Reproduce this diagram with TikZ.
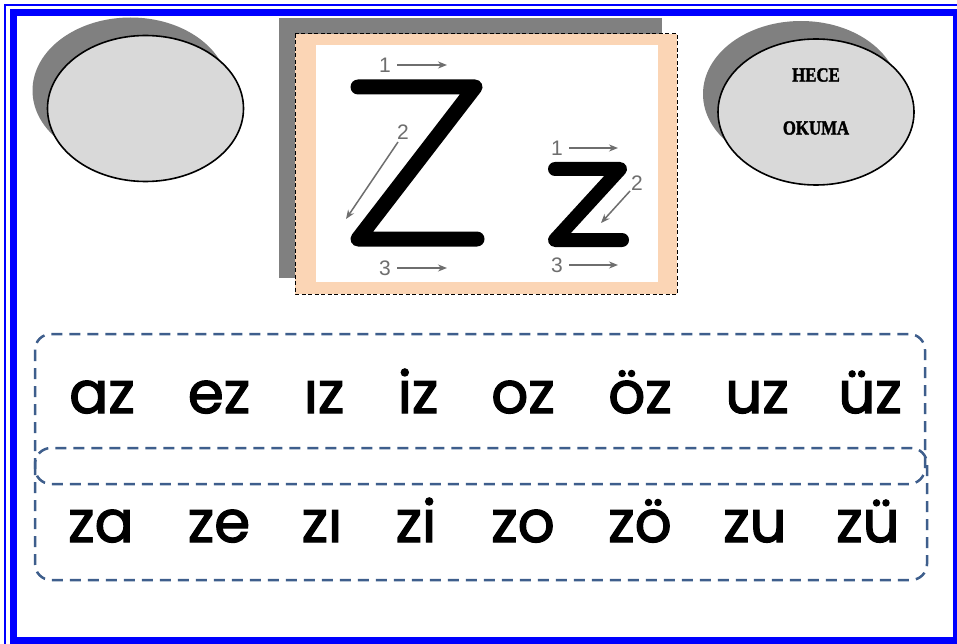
\documentclass[tikz,border=0pt]{standalone}
\usepackage{fontspec}
\setsansfont{Liberation Sans}
\newfontfamily\sylfont{Poppins}[FakeBold=2.2]
\newfontfamily\hecefont{Liberation Serif}[FakeBold=2]
\usetikzlibrary{shapes.geometric,shadows,arrows.meta}

\definecolor{frameblue}{RGB}{0,0,255}
\definecolor{shadowgray}{RGB}{128,128,128}
\definecolor{ovalgray}{RGB}{217,217,217}
\definecolor{peach}{RGB}{251,213,181}
\definecolor{hintgray}{RGB}{110,110,110}
\definecolor{dashblue}{RGB}{62,94,140}

\tikzset{
  oval/.style={draw, line width=1.6pt, ellipse, fill=ovalgray, minimum width=196pt, minimum height=146pt,
    drop shadow={shadow xshift=-15pt, shadow yshift=18pt, fill=shadowgray, opacity=1}},
  stroke/.style={line width=15pt, line cap=round, line join=round},
  hint/.style={hintgray, line width=1.5pt, -{Stealth[length=9pt, width=7pt]}},
  hintnum/.style={hintgray, font=\sffamily\fontsize{21}{21}\selectfont, inner sep=0pt},
  syl/.style={font=\sylfont\fontsize{58}{58}\selectfont, inner sep=0pt, anchor=base},
  hecetext/.style={font=\hecefont\bfseries\fontsize{20}{20}\selectfont, xscale=0.84},
  band/.style={dashblue, line width=2.5pt, dash pattern=on 11pt off 7pt, rounded corners=16pt}
}

\begin{document}
\begin{tikzpicture}[x=1pt, y=-1pt]
    \useasboundingbox (0,0) rectangle (957,644);
    \fill[white] (0,0) rectangle (957,644);

    % page frame
    \draw[frameblue, line width=1.2pt] (5,5) rectangle (962,649);
    \draw[frameblue, line width=7pt] (13.5,12.5) rectangle (956.5,640.5);

    % ovals
    \node[oval] (leftoval) at (145.5,108.5) {};
    \node[oval] (rightoval) at (816,112) {};
    \node[hecetext] (hece) at (816,75) {HECE};
    \node[hecetext] (okuma) at (816,128) {OKUMA};

    % letter card
    \fill[shadowgray] (279,18) rectangle (662,278);
    \fill[peach] (295,34) rectangle (677,294);
    \draw[line width=1pt, dash pattern=on 4pt off 2.5pt] (295,34) rectangle (677,294);
    \fill[white] (316,45) rectangle (658,282);

    % capital Z
    \coordinate (bigA) at (358,87);
    \coordinate (bigB) at (475,87);
    \coordinate (bigC) at (358,239);
    \coordinate (bigD) at (477,239);
    \draw[stroke] (bigA) -- (bigB) -- (bigC) -- (bigD);
    \node[hintnum] (big1) at (385,65) {1};
    \coordinate (big1s) at (397,65);
    \coordinate (big1e) at (447,65);
    \draw[hint] (big1s) -- (big1e);
    \node[hintnum] (big2) at (403,132) {2};
    \coordinate (big2s) at (398,142);
    \coordinate (big2e) at (346,219);
    \draw[hint] (big2s) -- (big2e);
    \node[hintnum] (big3) at (385,268) {3};
    \coordinate (big3s) at (397,268);
    \coordinate (big3e) at (447,268);
    \draw[hint] (big3s) -- (big3e);

    % small z
    \coordinate (smA) at (555,169);
    \coordinate (smB) at (620,169);
    \coordinate (smC) at (555,240);
    \coordinate (smD) at (622,240);
    \draw[stroke, line width=14pt] (smA) -- (smB) -- (smC) -- (smD);
    \node[hintnum] (sm1) at (557,148) {1};
    \coordinate (sm1s) at (569,148);
    \coordinate (sm1e) at (618,148);
    \draw[hint] (sm1s) -- (sm1e);
    \node[hintnum] (sm2) at (637,183) {2};
    \coordinate (sm2s) at (630,191);
    \coordinate (sm2e) at (601,223);
    \draw[hint] (sm2s) -- (sm2e);
    \node[hintnum] (sm3) at (557,265) {3};
    \coordinate (sm3s) at (569,265);
    \coordinate (sm3e) at (618,265);
    \draw[hint] (sm3s) -- (sm3e);

    % syllable bands
    \draw[band] (35,334) rectangle (925,484);
    \draw[band] (35,448) rectangle (927,580);

    \node[syl] (az) at (102,413) {az};
    \node[syl] (ez) at (219,413) {ez};
    \node[syl] (iz1) at (324,413) {ız};
    \node[syl] (iz2) at (418,413) {iz};
    \node[syl] (oz) at (523,413) {oz};
    \node[syl] (oz2) at (640,413) {öz};
    \node[syl] (uz) at (757,413) {uz};
    \node[syl] (uz2) at (870,413) {üz};

    \node[syl] (za) at (101,542) {za};
    \node[syl] (ze) at (219,542) {ze};
    \node[syl] (zi1) at (322,542) {zı};
    \node[syl] (zi2) at (416,542) {zi};
    \node[syl] (zo) at (523,542) {zo};
    \node[syl] (zo2) at (640,542) {zö};
    \node[syl] (zu) at (755,542) {zu};
    \node[syl] (zu2) at (868,542) {zü};
\end{tikzpicture}
\end{document}
